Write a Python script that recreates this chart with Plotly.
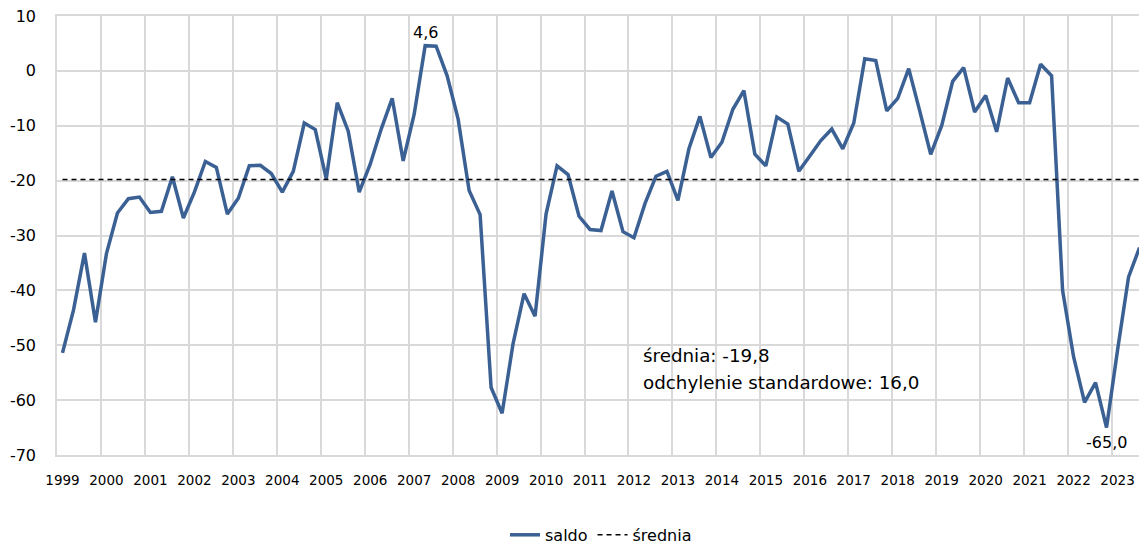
import plotly.graph_objects as go

years = list(range(1999, 2024))
quarters_per_year = 4

saldo = [
    -51.4, -43.6, -33.2, -45.8,
    -33.3, -25.9, -23.3, -23.0,
    -25.8, -25.6, -19.3, -26.8,
    -22.1, -16.5, -17.6, -26.1,
    -23.2, -17.3, -17.2, -18.7,
    -22.1, -18.3, -9.5, -10.7,
    -19.7, -5.8, -11.0, -22.1,
    -17.0, -10.6, -5.0, -16.4,
    -7.9, 4.6, 4.5, -0.9,
    -8.8, -21.8, -26.2, -57.7,
    -62.4, -49.7, -40.6, -44.7,
    -26.1, -17.3, -18.9, -26.5,
    -28.9, -29.1, -21.9, -29.3,
    -30.4, -24.2, -19.2, -18.3,
    -23.6, -14.2, -8.3, -15.8,
    -13.0, -7.0, -3.6, -15.2,
    -17.3, -8.4, -9.7, -18.3,
    -15.5, -12.7, -10.6, -14.2,
    -9.5, 2.2, 1.9, -7.3,
    -5.0, 0.4, -7.3, -15.2,
    -10.0, -1.9, 0.6, -7.5,
    -4.5, -11.1, -1.3, -5.8,
    -5.8, 1.2, -0.9, -40.0,
    -52.1, -60.4, -56.8, -65.0,
    -50.9, -37.6, -32.2,
]
srednia_value = -19.8
odchylenie_value = 16.0

y_ticks = [10, 0, -10, -20, -30, -40, -50, -60, -70]

n = len(saldo)
idx = list(range(n))
srednia = [srednia_value] * n
tick_positions = [i * quarters_per_year for i in range(len(years))]
tick_labels = [str(y) for y in years]

blue = "#3B6094"
grid = "#D9D9D9"
font_family = "DejaVu Sans, Verdana, sans-serif"

fig = go.Figure()
fig.add_trace(go.Scatter(
    x=idx, y=saldo, mode="lines", name="saldo",
    line=dict(color=blue, width=3.5),
))
fig.add_trace(go.Scatter(
    x=idx, y=srednia, mode="lines", name="średnia",
    line=dict(color="black", width=1.5, dash="5px,4px"),
))

imax = saldo.index(max(saldo))
imin = saldo.index(min(saldo))
fig.add_annotation(x=imax, y=saldo[imax], text=f"{saldo[imax]:.1f}".replace(".", ","),
                   showarrow=False, yanchor="bottom", yshift=2,
                   font=dict(size=16, color="black", family=font_family))
fig.add_annotation(x=imin, y=saldo[imin], text=f"{saldo[imin]:.1f}".replace(".", ","),
                   showarrow=False, yanchor="top", yshift=-3,
                   font=dict(size=16, color="black", family=font_family))
fig.add_annotation(x=52.6, y=-51.8, xanchor="left", yanchor="middle", align="left",
                   text=f"średnia: {srednia_value:.1f}".replace(".", ","),
                   showarrow=False,
                   font=dict(size=18.3, color="black", family=font_family))
fig.add_annotation(x=52.6, y=-56.7, xanchor="left", yanchor="middle", align="left",
                   text=f"odchylenie standardowe: {odchylenie_value:.1f}".replace(".", ","),
                   showarrow=False,
                   font=dict(size=18.3, color="black", family=font_family))

fig.update_layout(
    width=1139, height=543,
    margin=dict(l=49, r=2, t=8, b=96, autoexpand=False),
    paper_bgcolor="white", plot_bgcolor="white",
    font=dict(family=font_family, color="black"),
    showlegend=True,
    legend=dict(orientation="h", x=0.5, xanchor="center", y=-0.182, yanchor="middle",
                font=dict(size=16, family=font_family), traceorder="normal"),
    xaxis=dict(
        range=[-0.5, n - 0.5], automargin=False,
        tickmode="array", tickvals=tick_positions, ticktext=tick_labels,
        showgrid=False, zeroline=False, ticks="", ticklabelstandoff=12,
        tickfont=dict(size=13.5, family=font_family),
        minor=dict(tick0=-0.5, dtick=quarters_per_year, showgrid=True,
                   gridcolor=grid, gridwidth=1.5, ticks=""),
        showline=True, mirror=True, linecolor=grid, linewidth=1.5,
    ),
    yaxis=dict(
        range=[-70, 10], automargin=False,
        tickmode="array", tickvals=y_ticks, ticktext=[str(v) for v in y_ticks],
        showgrid=True, gridcolor=grid, gridwidth=1.5,
        zeroline=False, ticks="", ticklabelstandoff=16,
        showline=True, mirror=False, linecolor=grid, linewidth=1.5,
        ticklabeloverflow="allow",
        tickfont=dict(size=16, family=font_family),
    ),
)

fig.write_html("out.html")
